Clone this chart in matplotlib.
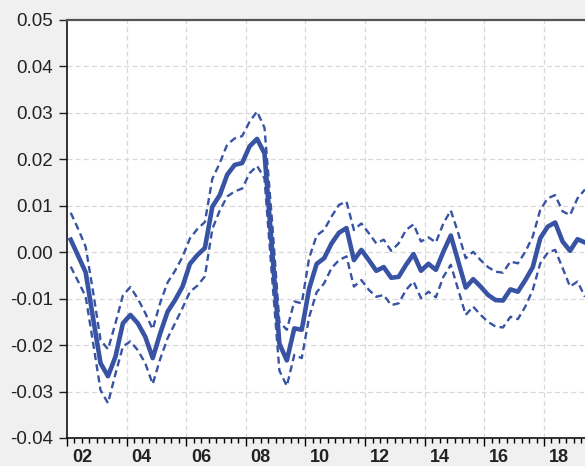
import matplotlib
matplotlib.use("Agg")
import matplotlib.pyplot as plt
import numpy as np
from matplotlib.ticker import FuncFormatter, FixedLocator

# Quarterly observations starting 2002Q1
start_year = 2002
solid = [0.0027, -0.0008, -0.0043, -0.0142, -0.0239, -0.0267, -0.0225, -0.0153,
         -0.0135, -0.0153, -0.0182, -0.0228, -0.0175, -0.0128, -0.0103, -0.0074,
         -0.0025, -0.0006, 0.0009, 0.0098, 0.0123, 0.0167, 0.0188, 0.0192,
         0.0228, 0.0244, 0.0213, 0.0010, -0.0197, -0.0233, -0.0164, -0.0167,
         -0.0078, -0.0025, -0.0013, 0.0019, 0.0042, 0.0052, -0.0017, 0.0005,
         -0.0017, -0.0040, -0.0032, -0.0055, -0.0053, -0.0027, -0.0004, -0.0040,
         -0.0025, -0.0038, 0.0001, 0.0036, -0.0020, -0.0076, -0.0058, -0.0074,
         -0.0092, -0.0103, -0.0104, -0.0080, -0.0085, -0.0060, -0.0032, 0.0030,
         0.0055, 0.0064, 0.0023, 0.0003, 0.0028, 0.0021]
upper = [0.0085, 0.0050, 0.0012, -0.0085, -0.0189, -0.0209, -0.0153, -0.0093,
         -0.0075, -0.0100, -0.0131, -0.0166, -0.0109, -0.0065, -0.0040, -0.0010,
         0.0030, 0.0050, 0.0065, 0.0158, 0.0192, 0.0232, 0.0245, 0.0250,
         0.0281, 0.0303, 0.0268, 0.0070, -0.0150, -0.0167, -0.0106, -0.0110,
         -0.0012, 0.0036, 0.0048, 0.0077, 0.0102, 0.0109, 0.0048, 0.0062,
         0.0041, 0.0019, 0.0027, 0.0003, 0.0019, 0.0048, 0.0060, 0.0023,
         0.0032, 0.0021, 0.0062, 0.0090, 0.0041, -0.0013, 0.0001, -0.0017,
         -0.0032, -0.0042, -0.0044, -0.0020, -0.0024, 0.0001, 0.0034, 0.0091,
         0.0116, 0.0123, 0.0088, 0.0080, 0.0116, 0.0135]
lower = [-0.0031, -0.0063, -0.0095, -0.0195, -0.0297, -0.0325, -0.0262, -0.0203,
         -0.0192, -0.0211, -0.0239, -0.0284, -0.0230, -0.0185, -0.0153, -0.0120,
         -0.0085, -0.0072, -0.0052, 0.0050, 0.0090, 0.0120, 0.0131, 0.0137,
         0.0170, 0.0186, 0.0159, -0.0050, -0.0255, -0.0288, -0.0221, -0.0228,
         -0.0139, -0.0086, -0.0067, -0.0034, -0.0017, -0.0009, -0.0074, -0.0060,
         -0.0081, -0.0096, -0.0092, -0.0114, -0.0110, -0.0081, -0.0063, -0.0099,
         -0.0085, -0.0097, -0.0053, -0.0027, -0.0081, -0.0135, -0.0117, -0.0135,
         -0.0150, -0.0160, -0.0162, -0.0139, -0.0144, -0.0117, -0.0081, -0.0024,
         -0.0001, 0.0005, -0.0034, -0.0074, -0.0063, -0.0096]
label_years = [2002, 2004, 2006, 2008, 2010, 2012, 2014, 2016, 2018]
y_ticks = [-0.04, -0.03, -0.02, -0.01, 0.00, 0.01, 0.02, 0.03, 0.04, 0.05]

x = start_year + (np.arange(len(solid)) + 0.5) / 4.0

plt.rcParams['font.family'] = ['Liberation Sans', 'DejaVu Sans']
fig = plt.figure(figsize=(5.85, 4.66), dpi=100, facecolor='#f0f0f0')
W, H = 585, 466
ax = fig.add_axes([67 / W, (H - 438) / H, (590 - 67) / W, (438 - 20) / H])
ax.set_facecolor('white')

color = '#3953a4'
ax.plot(x, upper, color=color, lw=1.7, ls=(0, (3.0, 1.8)), zorder=3)
ax.plot(x, lower, color=color, lw=1.7, ls=(0, (3.0, 1.8)), zorder=3)
ax.plot(x, solid, color=color, lw=3.3, zorder=4)

x_right = 2002 + (590 - 67) / 29.81
ax.set_xlim(2002, x_right)
ax.set_ylim(-0.04, 0.05)

# grid
for yv in y_ticks[1:-1]:
    ax.axhline(yv, color='#d8d8d8', lw=0.9, ls=(0, (4, 2.5)), zorder=1)
for xv in label_years[1:]:
    ax.axvline(xv, color='#d8d8d8', lw=0.9, ls=(0, (4, 2.5)), zorder=1)

ax.set_yticks(y_ticks)
ax.yaxis.set_major_formatter(FuncFormatter(lambda v, p: f"{v:.2f}".replace('-0.00', '0.00')))
ax.tick_params(axis='y', direction='out', length=6, width=1.0, pad=4,
               labelsize=13.5, colors='#222222')

ax.xaxis.set_major_locator(FixedLocator(label_years))
ax.xaxis.set_minor_locator(FixedLocator(np.arange(2002, 2020, 0.25)))
ax.set_xticklabels([])
ax.tick_params(axis='x', which='major', direction='out', length=6, width=1.0)
ax.tick_params(axis='x', which='minor', direction='out', length=3.5, width=1.0)
trans = ax.get_xaxis_transform()
for yr in label_years:
    ax.text(yr + 0.5, -0.026, f"{yr % 100:02d}", transform=trans, ha='center',
            va='top', fontsize=13, fontweight='bold', color='#222222')

ax.spines['right'].set_visible(False)
ax.spines['top'].set_color('#555555')
ax.spines['top'].set_linewidth(1.6)
ax.spines['left'].set_color('#111111')
ax.spines['left'].set_linewidth(1.2)
ax.spines['bottom'].set_color('#111111')
ax.spines['bottom'].set_linewidth(1.2)

fig.savefig('out.png', dpi=100, facecolor=fig.get_facecolor())
